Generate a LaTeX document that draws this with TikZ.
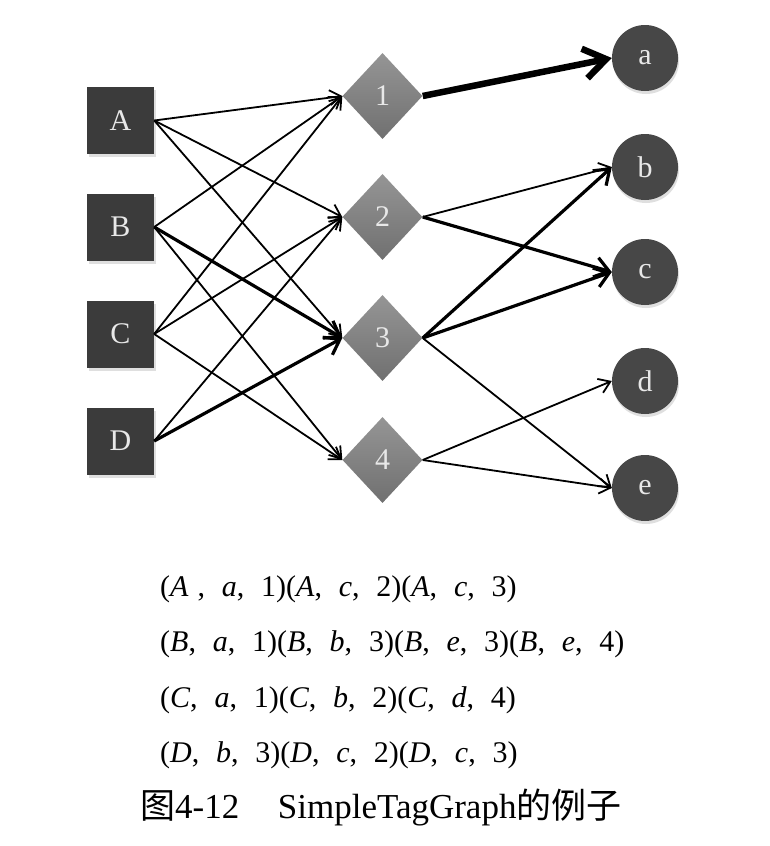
\documentclass[tikz,border=0pt]{standalone}
\usepackage{fontspec}
\setmainfont{Liberation Serif}
\newfontfamily\cjk{Noto Sans CJK SC}
\usetikzlibrary{shapes.geometric,arrows.meta,shadows}
\definecolor{sqc}{HTML}{3B3B3B}
\definecolor{cic}{HTML}{474747}
\definecolor{dtop}{HTML}{959595}
\definecolor{dbot}{HTML}{707070}
\definecolor{lab}{HTML}{E8E8E8}
\newcommand{\trip}[3]{(\textit{#1},\hspace{0.56em}\textit{#2},\hspace{0.56em}#3)}
\begin{document}
\begin{tikzpicture}[x=1pt,y=-1pt,
  sq/.style={rectangle,fill=sqc,minimum size=67pt,inner sep=0pt,text=lab,font=\fontsize{30}{32}\selectfont,
    drop shadow={shadow xshift=2pt,shadow yshift=-3pt,opacity=0.25}},
  dm/.style={diamond,top color=dtop,bottom color=dbot,draw=none,minimum width=80pt,minimum height=86pt,inner sep=0pt,text=lab,font=\fontsize{30}{32}\selectfont},
  ci/.style={circle,fill=cic,minimum size=66pt,inner sep=0pt,text=lab,font=\fontsize{30}{32}\selectfont,
    drop shadow={shadow xshift=1pt,shadow yshift=-3pt,opacity=0.25}},
  thin/.style={-{Straight Barb[length=11pt,width=15pt]},line width=1.8pt,black},
  mid/.style={-{Straight Barb[length=14pt,width=20pt]},line width=3.2pt,black},
  thick/.style={-{Straight Barb[length=22pt,width=30pt]},line width=6.5pt,black},
  txt/.style={anchor=base west,inner sep=0pt,font=\fontsize{30}{32}\selectfont}
]
\useasboundingbox[fill=white] (0,0) rectangle (769,846);
% left squares
\node[sq] (A) at (120.5,120.5) {A};
\node[sq] (B) at (120.5,227) {B};
\node[sq] (C) at (120.5,334) {C};
\node[sq] (D) at (120.5,441) {D};
% diamonds
\node[dm] (n1) at (382.5,96) {1};
\node[dm] (n2) at (382.5,217) {2};
\node[dm] (n3) at (382.5,338) {3};
\node[dm] (n4) at (382.5,460) {4};
% circles
\node[ci] (a) at (645,58) {a};
\node[ci] (b) at (645,167) {b};
\node[ci] (c) at (645,272) {c};
\node[ci] (d) at (645,381) {d};
\node[ci] (e) at (645,488) {e};
% left edges
\draw[thin] (A.east) -- (n1.west);
\draw[thin] (A.east) -- (n2.west);
\draw[thin] (A.east) -- (n3.west);
\draw[thin] (B.east) -- (n1.west);
\draw[mid] (B.east) -- (n3.west);
\draw[thin] (B.east) -- (n4.west);
\draw[thin] (C.east) -- (n1.west);
\draw[thin] (C.east) -- (n2.west);
\draw[thin] (C.east) -- (n4.west);
\draw[thin] (D.east) -- (n2.west);
\draw[mid] (D.east) -- (n3.west);
% right edges
\draw[thick] (n1.east) -- (a.west);
\draw[thin] (n2.east) -- (b.west);
\draw[mid] (n2.east) -- (c.west);
\draw[mid] (n3.east) -- (b.west);
\draw[mid] (n3.east) -- (c.west);
\draw[thin] (n3.east) -- (e.west);
\draw[thin] (n4.east) -- (d.west);
\draw[thin] (n4.east) -- (e.west);
% text
\node[txt] (l1) at (160,596) {(\textit{A}\hspace{0.3em},\hspace{0.56em}\textit{a},\hspace{0.56em}1)\trip{A}{c}{2}\trip{A}{c}{3}};
\node[txt] (l2) at (160,651) {\trip{B}{a}{1}\trip{B}{b}{3}\trip{B}{e}{3}\trip{B}{e}{4}};
\node[txt] (l3) at (160,707) {\trip{C}{a}{1}\trip{C}{b}{2}\trip{C}{d}{4}};
\node[txt] (l4) at (160,762) {\trip{D}{b}{3}\trip{D}{c}{2}\trip{D}{c}{3}};
\node[anchor=base west,inner sep=0pt,font=\fontsize{35}{36}\selectfont] (cap) at (140,818) {{\cjk 图}4-12\hspace{1.1em}SimpleTagGraph{\cjk 的例子}};
\end{tikzpicture}
\end{document}
